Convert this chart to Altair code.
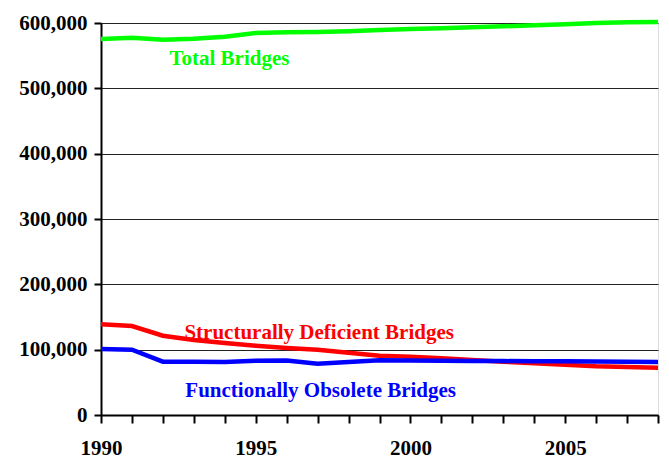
import altair as alt
import pandas as pd

years = list(range(1990, 2009))
total_bridges = [575500, 577500, 574400, 576000, 579000, 584700, 585800, 586200, 587300, 589300,
                 590800, 591900, 593400, 594900, 596500, 598000, 600000, 601200, 601500]
structurally_deficient = [138800, 136200, 121400, 114800, 110200, 106100, 102500, 99900, 95400, 90800,
                          89300, 86800, 84200, 81600, 79200, 77100, 74600, 73500, 72400]
functionally_obsolete = [101000, 100000, 81600, 81500, 81300, 83000, 83500, 78500, 81000, 83800,
                         83500, 83000, 82800, 82500, 82300, 82200, 82000, 81500, 81200]

series_names = ["Total Bridges", "Structurally Deficient Bridges", "Functionally Obsolete Bridges"]
series_colors = ["#00ff00", "#ff0000", "#0000ff"]
y_ticks = [0, 100000, 200000, 300000, 400000, 500000, 600000]

# label anchors in data units
label_years = [1994.15, 1997.05, 1997.1]
label_values = [545000, 125500, 36700]

rows = []
for name, vals in zip(series_names, [total_bridges, structurally_deficient, functionally_obsolete]):
    for yr, v in zip(years, vals):
        rows.append({"year": yr, "value": v, "series": name})
df = pd.DataFrame(rows)
labels = pd.DataFrame({"year": label_years, "value": label_values, "series": series_names})

FONT = "Liberation Serif"

xs = alt.Scale(domain=[1990, 2008], nice=False, zero=False)
ys = alt.Scale(domain=[0, 600000], nice=False)
cs = alt.Scale(domain=series_names, range=series_colors)

x_axis = alt.Axis(
    values=years, title=None, labelExpr="datum.value % 5 == 0 ? datum.value : ''",
    tickSize=8, tickWidth=2, tickColor="black", domainColor="black", domainWidth=2,
    labelFont=FONT, labelFontSize=21, labelFontWeight="bold", labelColor="black",
    labelPadding=14, grid=False, labelOverlap=False, labelFlush=False)
y_axis = alt.Axis(
    values=y_ticks, format=",.0f", title=None, tickSize=7, tickWidth=2, tickColor="black",
    domainColor="black", domainWidth=2, grid=True, gridColor="#222222", gridWidth=1,
    labelFont=FONT, labelFontSize=21, labelFontWeight="bold", labelColor="black",
    labelPadding=7, labelOverlap=False)

lines = alt.Chart(df).mark_line(strokeWidth=4.5).encode(
    x=alt.X("year:Q", scale=xs, axis=x_axis),
    y=alt.Y("value:Q", scale=ys, axis=y_axis),
    color=alt.Color("series:N", scale=cs, legend=None),
    detail="series:N",
)

texts = alt.Chart(labels).mark_text(
    font=FONT, fontSize=21, fontWeight="bold", align="center", baseline="middle"
).encode(
    x=alt.X("year:Q", scale=xs, axis=x_axis),
    y=alt.Y("value:Q", scale=ys, axis=y_axis),
    text="series:N",
    color=alt.Color("series:N", scale=cs, legend=None),
)

chart = (lines + texts).properties(
    width=557, height=392,
    autosize=alt.AutoSizeParams(type="none"),
    padding={"left": 93, "top": 15, "right": 3, "bottom": 44},
).configure_view(stroke=None).configure_axis(
    labelFont=FONT, labelFontSize=21, labelFontWeight="bold", labelColor="black"
).configure(font=FONT)

chart.save("out.html", embed_options={"renderer": "svg", "actions": False})
